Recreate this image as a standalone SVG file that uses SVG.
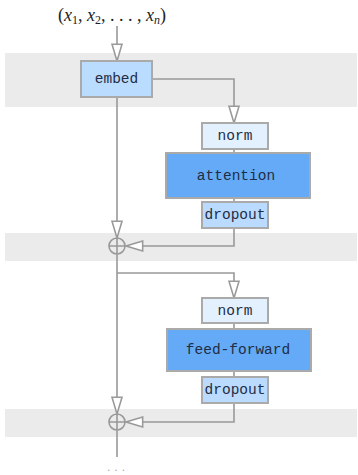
<svg xmlns="http://www.w3.org/2000/svg" width="358" height="475" viewBox="0 0 358 475">
<style>
.band{fill:#ebebeb}
.box{stroke:#aaaaaa;stroke-width:2}
.lbl{font-family:"Courier New",Courier,"Nimbus Mono PS","Liberation Mono",monospace;font-size:14.5px;fill:#1f2d45;text-anchor:middle;dominant-baseline:central}
.ln{fill:none;stroke:#999999;stroke-width:1.6}
.ah{fill:#ffffff;stroke:#999999;stroke-width:1.4}
</style>
<defs>
<marker id="arr" markerUnits="userSpaceOnUse" markerWidth="20" markerHeight="14" viewBox="-16 -6 18 12" refX="0" refY="0" orient="auto">
<path class="ah" d="M0,0 L-15,-4.5 L-15,4.5 Z"/>
</marker>
</defs>
<rect class="band" x="5" y="53" width="352" height="54"/>
<rect class="band" x="5" y="233" width="352" height="28"/>
<rect class="band" x="5" y="409" width="352" height="28"/>
<text x="112" y="21" font-family="Liberation Serif,serif" font-style="italic" font-size="18" fill="#222" text-anchor="middle"><tspan font-style="normal">(</tspan>x<tspan font-size="12" dy="3" font-style="normal">1</tspan><tspan dy="-3" font-style="normal">, </tspan>x<tspan font-size="12" dy="3" font-style="normal">2</tspan><tspan dy="-3" font-style="normal">, . . . , </tspan>x<tspan font-size="12" dy="3">n</tspan><tspan dy="-3" font-style="normal">)</tspan></text>
<g id="connectors">
<line class="ln" x1="117" y1="26" x2="117" y2="61" marker-end="url(#arr)"/>
<polyline class="ln" points="152,79 234,79 234,123" marker-end="url(#arr)"/>
<line class="ln" x1="117" y1="97" x2="117" y2="238" marker-end="url(#arr)"/>
<line class="ln" x1="234" y1="149" x2="234" y2="153"/>
<line class="ln" x1="234" y1="198" x2="234" y2="202"/>
<polyline class="ln" points="234,228 234,246 126,246" marker-end="url(#arr)"/>
<line class="ln" x1="117" y1="254" x2="117" y2="414" marker-end="url(#arr)"/>
<polyline class="ln" points="117,273 234,273 234,298" marker-end="url(#arr)"/>
<line class="ln" x1="234" y1="323" x2="234" y2="329"/>
<line class="ln" x1="234" y1="371" x2="234" y2="377"/>
<polyline class="ln" points="234,403 234,422 126,422" marker-end="url(#arr)"/>
<line class="ln" x1="117" y1="430" x2="117" y2="457"/>
</g>
<g id="embed"><rect class="box" x="81" y="61" width="71" height="36" fill="#badcff"/><text class="lbl" x="116.5" y="79">embed</text></g>
<g id="norm1"><rect class="box" x="202" y="123" width="66" height="26" fill="#e3f0fd"/><text class="lbl" x="235" y="136">norm</text></g>
<g id="attention"><rect class="box" x="166" y="153" width="144" height="45" fill="#64aaf7"/><text class="lbl" x="236" y="175.5">attention</text></g>
<g id="dropout1"><rect class="box" x="202" y="202" width="66" height="26" fill="#badaff"/><text class="lbl" x="235" y="215">dropout</text></g>
<g id="add1"><circle cx="117" cy="246" r="8" fill="none" stroke="#999999" stroke-width="1.6"/><path d="M109,246 H125 M117,238 V254" stroke="#999999" stroke-width="1.6"/></g>
<g id="norm2"><rect class="box" x="202" y="298" width="66" height="25" fill="#e3f0fd"/><text class="lbl" x="235" y="310.5">norm</text></g>
<g id="feedforward"><rect class="box" x="167" y="329" width="144" height="42" fill="#64aaf7"/><text class="lbl" x="238" y="350">feed-forward</text></g>
<g id="dropout2"><rect class="box" x="202" y="377" width="66" height="26" fill="#badaff"/><text class="lbl" x="235" y="390">dropout</text></g>
<g id="add2"><circle cx="117" cy="422" r="8" fill="none" stroke="#999999" stroke-width="1.6"/><path d="M109,422 H125 M117,414 V430" stroke="#999999" stroke-width="1.6"/></g>
<text x="118" y="471" font-family="Liberation Sans,sans-serif" font-size="12" fill="#aaaaaa" text-anchor="middle" letter-spacing="4">...</text>
</svg>
